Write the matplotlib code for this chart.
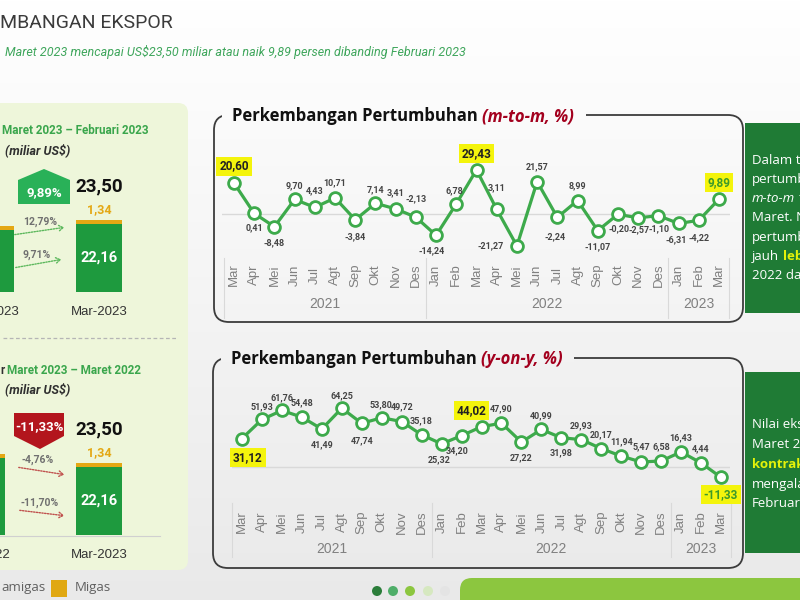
import matplotlib
matplotlib.use('Agg')
import matplotlib.pyplot as plt
import matplotlib.transforms as mtransforms
import numpy as np
from matplotlib.patches import FancyBboxPatch, Polygon, Rectangle, Circle, FancyArrowPatch

NARROW = ['Roboto', 'DejaVu Sans']
ARIAL = ['Liberation Sans', 'DejaVu Sans']
OPEN = ['Open Sans', 'DejaVu Sans']

######################################################################
# DATA

months = ['Mar', 'Apr', 'Mei', 'Jun', 'Jul', 'Agt', 'Sep', 'Okt', 'Nov', 'Des',
          'Jan', 'Feb', 'Mar', 'Apr', 'Mei', 'Jun', 'Jul', 'Agt', 'Sep', 'Okt', 'Nov', 'Des',
          'Jan', 'Feb', 'Mar']
year_names = ['2021', '2022', '2023']
year_counts = [10, 12, 3]

mtm_growth = [20.60, 0.41, -8.48, 9.70, 4.43, 10.71, -3.84, 7.14, 3.41, -2.13,
              -14.24, 6.78, 29.43, 3.11, -21.27, 21.57, -2.24, 8.99, -11.07, -0.20, -2.57, -1.10,
              -6.31, -4.22, 9.89]
yoy_growth = [31.12, 51.93, 61.76, 54.48, 41.49, 64.25, 47.74, 53.80, 49.72, 35.18,
              25.32, 34.20, 44.02, 47.90, 27.22, 40.99, 31.98, 29.93, 20.17, 11.94, 5.47, 6.58,
              16.43, 4.44, -11.33]

mtm_bars = ['Feb-2023', 'Mar-2023']
mtm_nonmigas = [20.21, 22.16]
mtm_migas = [1.19, 1.34]
mtm_change = [9.89, 12.79, 9.71]      # total, migas, nonmigas

yoy_bars = ['Mar-2022', 'Mar-2023']
yoy_nonmigas = [25.10, 22.16]
yoy_migas = [1.41, 1.34]
yoy_change = [-11.33, -4.76, -11.70]

######################################################################
# STYLE

W, H = 800, 600
LINE_GREEN = '#3daa4b'
BAR_GREEN = '#1e9a3e'
BAR_YELLOW = '#e4a814'
DARK_GREEN = '#1f7b35'
HILITE = '#f4f40c'

# label offsets in px (dx right, dy up)
mtm_offsets = [(0, 17), (0, -14), (0, -16), (0, 14), (0, 17), (0, 15), (0, -17), (0, 14), (0, 16), (0, 18),
               (-4, -15), (-2, 13), (0, 16), (0, 22), (-26, 0), (0, 15), (-2, -19), (0, 15), (0, -16),
               (1, -14), (1, -12), (1, -13), (-2, -16), (0, -17), (0, 17)]
yoy_offsets = [(6, -19), (0, 13), (0, 13), (0, 14), (0, -16), (0, 12), (0, -17), (-1, 13), (1, 15), (0, 14),
               (-2, -16), (-4, -15), (-10, 16), (0, 14), (0, -16), (0, 14), (0, -15), (0, 14), (0, 14),
               (0, 14), (0, 15), (0, 14), (0, 14), (0, 14), (0, -17)]


def fmt(v):
    return f'{v:.2f}'.replace('.', ',')


def bg_color(y):
    g = 1.0 - 0.085 * y / H
    return (g, g, g)


fig = plt.figure(figsize=(W / 100, H / 100), dpi=100)
bg = fig.add_axes([0, 0, 1, 1], zorder=0)
grad = np.linspace(1.0, 0.915, H)
bg.imshow(np.dstack([grad, grad, grad]).reshape(H, 1, 3), extent=(0, W, H, 0), aspect='auto')
bg.set_xlim(0, W)
bg.set_ylim(H, 0)
bg.axis('off')
renderer = fig.canvas.get_renderer()


def runs(x, y, parts, gap=0, **kw):
    # draw consecutive text pieces with different styles
    for txt, style in parts:
        t = bg.text(x, y, txt, **{**kw, **style})
        x = x + t.get_window_extent(renderer=renderer).width + gap
    return x


######################################################################
# HEADER

bg.text(0, 23, 'MBANGAN EKSPOR', fontsize=14, color='#3b3b3b', family=NARROW, va='center')
bg.text(5, 52, 'Maret 2023 mencapai US$23,50 miliar atau naik 9,89 persen dibanding Februari 2023',
        fontsize=9, color='#3fa65c', style='italic', family=NARROW, va='center')

######################################################################
# LEFT PANEL

bg.add_patch(FancyBboxPatch((-30, 103), 218, 467, boxstyle='round,pad=0,rounding_size=10',
                            fc='#eef6da', ec='none', zorder=1))
bg.plot([3, 176], [338, 338], color='#b5b5b5', lw=0.9, ls=(0, (3, 2)), zorder=2)

bg.text(2, 131, 'Maret 2023 \u2013 Februari 2023', fontsize=8.4, fontweight='bold', color='#3aa64c',
        family=NARROW, va='center', zorder=3)
bg.text(5, 150, '(miliar US$)', fontsize=9, fontweight='bold', style='italic', color='#303030',
        family=NARROW, va='center', zorder=3)
runs(0, 371, [('r', dict(color='#303030')), ('Maret 2023 \u2013 Maret 2022', dict(color='#3aa64c'))],
     gap=3, fontsize=8.4, fontweight='bold', family=NARROW, va='center', zorder=3)
bg.text(5, 389, '(miliar US$)', fontsize=9, fontweight='bold', style='italic', color='#303030',
        family=NARROW, va='center', zorder=3)


def bar_panel(cats, nonmigas, migas, base_px, first_px):
    ax = fig.add_axes([0, 1 - base_px / H, 188 / W, 95 / H], zorder=2)
    unit = 99 - first_px
    ax.set_xlim((0 - first_px) / unit, (188 - first_px) / unit)
    ax.set_ylim(0, 95 / 3.07)
    ax.axis('off')
    x = np.arange(len(cats))
    w = 46 / unit
    ax.bar(x, nonmigas, w, color=BAR_GREEN)
    ax.bar(x, migas, w, bottom=nonmigas, color=BAR_YELLOW)
    total = nonmigas[-1] + migas[-1]
    ax.annotate(fmt(total), (x[-1], total), xytext=(0, 33 * 0.72), textcoords='offset points',
                ha='center', va='center', fontsize=13.5, fontweight='bold', color='#111111', family=NARROW)
    ax.annotate(fmt(migas[-1]), (x[-1], total), xytext=(0, 10 * 0.72), textcoords='offset points',
                ha='center', va='center', fontsize=9, fontweight='bold', color=BAR_YELLOW, family=NARROW)
    ax.text(x[-1], nonmigas[-1] / 2, fmt(nonmigas[-1]), ha='center', va='center', fontsize=10.5,
            fontweight='bold', color='white', family=NARROW)
    for xi, c in zip(x, cats):
        ax.annotate(c, (xi, 0), xytext=(0, -20 * 0.72), textcoords='offset points', ha='center',
                    va='center', fontsize=9.5, color='#333333', family=ARIAL, annotation_clip=False)
    return ax


bar_panel(mtm_bars, mtm_nonmigas, mtm_migas, 292, -9)
bar_panel(yoy_bars, yoy_nonmigas, yoy_migas, 535, -18)
bg.plot([0, 160], [535.5, 535.5], color='#d0d0d0', lw=0.8, zorder=2)

# growth badges
bg.add_patch(Polygon([(18, 204), (18, 180), (44, 169), (70, 180), (70, 204)], closed=True,
                     fc='#29b158', ec='none', zorder=3))
bg.text(44, 193, fmt(mtm_change[0]) + '%', fontsize=9.5, fontweight='bold', color='white',
        family=NARROW, ha='center', va='center', zorder=4)
bg.add_patch(Polygon([(14, 413), (64, 413), (64, 436), (40, 449), (14, 436)], closed=True,
                     fc='#b3151d', ec='none', zorder=3))
bg.text(39, 427, fmt(yoy_change[0]) + '%', fontsize=9.5, fontweight='bold', color='white',
        family=NARROW, ha='center', va='center', zorder=4)

# growth arrows
for (lx, ly, x0, y0, x1, y1, v, col) in [
        (40, 222, 12, 235, 67, 227, mtm_change[1], '#5cb85c'),
        (37, 255, 13, 268, 64, 259, mtm_change[2], '#5cb85c'),
        (38, 460, 16, 467, 67, 475, yoy_change[1], '#c0504d'),
        (40, 503, 17, 510, 67, 516, yoy_change[2], '#c0504d')]:
    bg.text(lx, ly, fmt(v) + '%', fontsize=7.5, fontweight='bold', color='#707070', family=NARROW,
            ha='center', va='center', zorder=4)
    bg.add_patch(FancyArrowPatch((x0, y0), (x1, y1), arrowstyle='->,head_length=3,head_width=2',
                                 color=col, lw=1, ls=(0, (1, 1)), zorder=4))

# legend fragment
bg.text(1, 588, 'amigas', fontsize=9.5, color='#606060', family=OPEN, va='center')
bg.add_patch(Rectangle((51, 580), 16, 17, fc='#e0a812', ec='none'))
bg.text(75, 588, 'Migas', fontsize=9.5, color='#606060', family=OPEN, va='center')

######################################################################
# LINE CHARTS


def chart_box(l, t, r, b, title, sub):
    bg.add_patch(FancyBboxPatch((l, t), r - l, b - t, boxstyle='round,pad=0,rounding_size=15',
                                fc='none', ec='#3c3c3c', lw=1.3, zorder=1))
    end = runs(l + 18, t + 1, [(title, dict(color='#111111')), (sub, dict(color='#a3001e', style='italic'))],
               gap=4, fontsize=12, fontweight='bold', family=OPEN, va='center', zorder=3)
    bg.add_patch(Rectangle((l + 8, t - 4), end - l, 8, fc=bg_color(t), ec='none', zorder=2))


def line_chart(vals, offsets, l, t, r, b, x0px, x1px, zero_px, scale, month_y, year_y, sep_y):
    ax = fig.add_axes([l / W, 1 - b / H, (r - l) / W, (b - t) / H], zorder=3)
    step = (x1px - x0px) / (len(vals) - 1)
    ax.set_xlim((l - x0px) / step, (r - x0px) / step)
    ax.set_ylim(-(b - zero_px) / scale, (zero_px - t) / scale)
    ax.axis('off')
    ax.axhline(0, color='#d9d9d9', lw=1, zorder=1)
    x = np.arange(len(vals))
    ax.plot(x, vals, color=LINE_GREEN, lw=2.3, marker='o', ms=8.5, mfc='white', mec=LINE_GREEN,
            mew=2, clip_on=False, zorder=3)
    for i, (v, (dx, dy)) in enumerate(zip(vals, offsets)):
        if months[i] == 'Mar':
            col = '#3c9a2a' if i == len(vals) - 1 else '#222222'
            ax.annotate(fmt(v), (i, v), xytext=(dx * 0.72, dy * 0.72), textcoords='offset points',
                        ha='center', va='center', fontsize=8.5, fontweight='bold', family=NARROW, color=col,
                        bbox=dict(boxstyle='square,pad=0.25', fc=HILITE, ec='none'), zorder=4,
                        annotation_clip=False)
        else:
            ax.annotate(fmt(v), (i, v), xytext=(dx * 0.72, dy * 0.72), textcoords='offset points',
                        ha='center', va='center', fontsize=6.5, fontweight='bold', family=NARROW,
                        color='#454545', zorder=4, annotation_clip=False)
    trans = mtransforms.blended_transform_factory(ax.transData, bg.transData)
    for i, m in enumerate(months):
        ax.text(i, month_y, m, transform=trans, rotation=90, ha='center', va='center', fontsize=9.5,
                color='#808080', family=ARIAL)
    start = -0.5
    for name, n in zip(year_names, year_counts):
        ax.text(start + n / 2, year_y, name, transform=trans, ha='center', va='center', fontsize=10,
                color='#808080', family=ARIAL)
        start += n
    for xb in np.cumsum([0] + year_counts) - 0.5:
        ax.plot([xb, xb], sep_y, transform=trans, color='#d9d9d9', lw=0.8, clip_on=False)
    return ax


chart_box(214, 115, 743, 322, 'Perkembangan Pertumbuhan', '(m-to-m, %)')
line_chart(mtm_growth, mtm_offsets, 222, 125, 730, 258, 234, 719, 214, 1.5, 275, 304, [258, 318])

chart_box(213, 358, 743, 568, 'Perkembangan Pertumbuhan', '(y-on-y, %)')
line_chart(yoy_growth, yoy_offsets, 232, 372, 730, 503, 242, 721, 467, 0.915, 522, 549, [503, 557])

######################################################################
# RIGHT NOTES

bg.add_patch(Rectangle((745, 123), 80, 190, fc=DARK_GREEN, ec='none', zorder=1))
note_kw = dict(fontsize=9.5, family=OPEN, va='center', color='white', zorder=3)
for k, parts in enumerate([
        [('Dalam ti', {})],
        [('pertumb', {})],
        [('m-to-m', dict(style='italic')), ('t', {})],
        [('Maret. N', {})],
        [('pertumb', {})],
        [('jauh', {}), ('lebi', dict(color='#e4f20a', fontweight='bold'))],
        [('2022 dan', {})]]):
    runs(752, 160 + 19.3 * k, parts, gap=4, **note_kw)

bg.add_patch(Rectangle((745, 372), 80, 181, fc=DARK_GREEN, ec='none', zorder=1))
for k, parts in enumerate([
        [('Nilai eks', {})],
        [('Maret 2', {})],
        [('kontrak', dict(color='#e4f20a', fontweight='bold'))],
        [('mengala', {})],
        [('Februari', {})]]):
    runs(752, 425 + 19.7 * k, parts, gap=4, **note_kw)

######################################################################
# FOOTER

bg.add_patch(FancyBboxPatch((460, 578), 400, 40, boxstyle='round,pad=0,rounding_size=12',
                            fc='#8cc63f', ec='none', zorder=1))
for cx, col in zip([377, 393, 410, 428, 445], ['#2b7d3a', '#4fae69', '#8cc63f', '#d6e8c0', '#e4e4e4']):
    bg.add_patch(Circle((cx, 591), 5, fc=col, ec='none', zorder=2))

fig.savefig('out.png', dpi=100)
